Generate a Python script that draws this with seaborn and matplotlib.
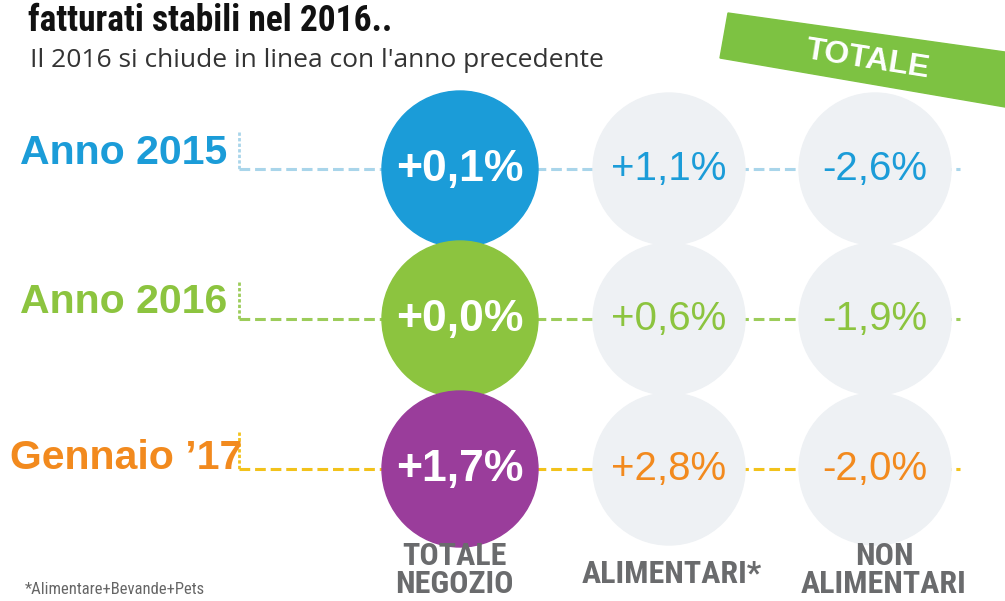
import matplotlib
matplotlib.use("Agg")
import matplotlib.pyplot as plt
from matplotlib.patches import Circle, Polygon
from matplotlib import font_manager as fm
import seaborn as sns

sns.set_theme(style="white")
plt.rcParams['font.family'] = ['Liberation Sans', 'DejaVu Sans']

# ---- data ----
title = "fatturati stabili nel 2016.."
subtitle = "Il 2016 si chiude in linea con l'anno precedente"
rows = ["Anno 2015", "Anno 2016", "Gennaio \u201917"]
columns = ["TOTALE\nNEGOZIO", "ALIMENTARI*", "NON\nALIMENTARI"]
totale_negozio = ["+0,1%", "+0,0%", "+1,7%"]
alimentari = ["+1,1%", "+0,6%", "+2,8%"]
non_alimentari = ["-2,6%", "-1,9%", "-2,0%"]
footnote = "*Alimentare+Bevande+Pets"
banner = "TOTALE"

# ---- style ----
row_colors = ["#1b9cd8", "#8cc43f", "#f28a1e"]
total_colors = ["#1b9cd8", "#8cc43f", "#9a3d9b"]
dash_colors = ["#a9d5ea", "#9ccc5a", "#f2c21b"]
gray_circle = "#eef1f4"
label_gray = "#6a6b6d"


def narrow_props(bold=True):
    """Pick an installed condensed/narrow sans font if there is one."""
    prefs = ["liberation sans narrow", "roboto condensed", "dejavu sans",
             "noto sans", "open sans", "arial narrow"]
    best, best_score = None, None
    for f in fm.fontManager.ttflist:
        n = f.name.lower()
        st = str(f.stretch)
        narrowish = ("narrow" in n or "condensed" in n or " cond" in n
                     or st in ("condensed", "semi-condensed", "extra-condensed",
                               "ultra-condensed"))
        if not narrowish or "mono" in n or "serif" in n.replace("sans", ""):
            continue
        if f.style != "normal":
            continue
        w = f.weight if isinstance(f.weight, int) else {
            "bold": 700, "normal": 400, "regular": 400, "light": 300,
            "medium": 500, "semibold": 600, "black": 900}.get(str(f.weight), 400)
        target = 700 if bold else 400
        pi = next((i for i, p in enumerate(prefs) if n.startswith(p)), 9)
        score = (pi, abs(w - target), 0 if st == "condensed" else 1)
        if best_score is None or score < best_score:
            best, best_score = f, score
    if best is None:
        return fm.FontProperties(family=["Liberation Sans", "DejaVu Sans"],
                                 weight="bold" if bold else "normal")
    return fm.FontProperties(fname=best.fname)


NB = narrow_props(True)
NR = narrow_props(False)

fig = plt.figure(figsize=(10.05, 6.01), dpi=100)
ax = fig.add_axes([0, 0, 1, 1])
ax.set_xlim(0, 1005)
ax.set_ylim(601, 0)
ax.axis("off")
renderer = fig.canvas.get_renderer()


def fit_text(x, y, s, target_w, max_fs, fp, **kw):
    t = ax.text(x, y, s, fontproperties=fp, **kw)
    t.set_fontsize(max_fs)
    w = t.get_window_extent(renderer).width
    if w > target_w:
        t.set_fontsize(max_fs * target_w / w)
    return t


row_y = [169, 319, 469]
label_dy = [-16, -17, -11]
label_x = [20, 20, 10]
col_x = [460, 669, 875]

# title / subtitle
fit_text(28, 31, title, 365, 30, NB, color="#111111", ha="left", va="baseline")
ax.text(30, 67, subtitle, fontsize=19, family=['Open Sans', 'DejaVu Sans'],
        color="#333333", ha="left", va="baseline")

# banner
ax.add_patch(Polygon([(728, 13), (1005, 52), (1005, 107), (720, 58)],
                     closed=True, color="#7dc242", zorder=2))
ax.text(868, 60, banner, fontsize=23, fontweight="bold", color="white",
        ha="center", va="center", rotation=-9, zorder=3)

for i, (lab, y) in enumerate(zip(rows, row_y)):
    ax.text(label_x[i], y + label_dy[i], lab, fontsize=29.5, fontweight="bold",
            color=row_colors[i], ha="left", va="center")
    ax.plot([239, 239], [y - 37, y], color=dash_colors[i], lw=2,
            ls=(0, (1.2, 0.8)), zorder=1)
    ax.plot([239, 960], [y, y], color=dash_colors[i], lw=2.2,
            ls=(0, (3.5, 1.6)), zorder=1)
    ax.add_patch(Circle((col_x[0], y), 78, color=total_colors[i], zorder=2))
    ax.text(col_x[0], y + 1, totale_negozio[i], fontsize=32, color="white",
            fontweight="bold", ha="center", va="center", zorder=3)
    for cx, vals in zip(col_x[1:], [alimentari, non_alimentari]):
        ax.add_patch(Circle((cx, y), 76, color=gray_circle, zorder=2))
        ax.text(cx, y, vals[i], fontsize=29, color=row_colors[i],
                ha="center", va="center", zorder=3)

# column labels (two-line ones split into lines so each can be fitted)
col_lines = [c.split("\n") for c in columns]
col_centers = [454, 672, 884]
line_w = {"TOTALE": 115, "NEGOZIO": 133, "ALIMENTARI*": 193, "NON": 66,
          "ALIMENTARI": 180}
for cx, lines in zip(col_centers, col_lines):
    ys = [574] if len(lines) == 1 else [556, 584]
    for ln, ly in zip(lines, ys):
        fit_text(cx, ly, ln, line_w.get(ln, 180), 23, NB, color=label_gray,
                 ha="center", va="center")

fit_text(25, 590, footnote, 220, 12, NR, color="#666666", ha="left",
         va="center")

fig.savefig("out.png", dpi=100)
